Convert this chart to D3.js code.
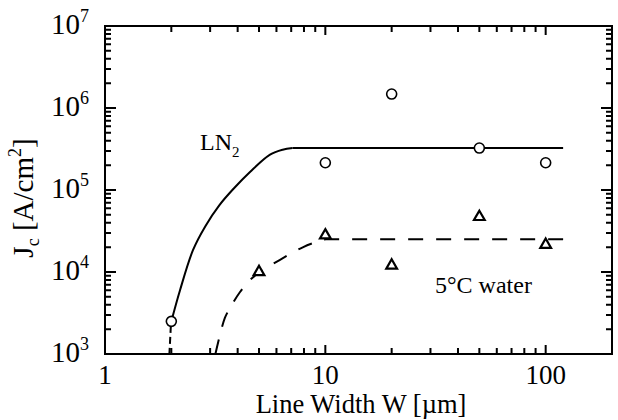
<!DOCTYPE html>
<html><head><meta charset="utf-8">
<script src="https://cdn.jsdelivr.net/npm/d3@7"></script>
<style>body{margin:0;background:#fff}</style>
</head><body><svg id="c" width="618" height="420"></svg>
<script>
// ---- data ----
const ln2W = [2, 10, 20, 50, 100];
const ln2Jc = [2500, 2.15e5, 1.48e6, 3.25e5, 2.15e5];
const waterW = [5, 10, 20, 50, 100];
const waterJc = [1.0e4, 2.8e4, 1.2e4, 4.7e4, 2.15e4];
const ln2FitW = [2, 2.19, 2.51, 2.85, 3.3, 3.85, 4.55, 5.61, 6.4, 7.1];
const ln2FitJc = [2500, 6000, 1.86e4, 3.6e4, 6.5e4, 1.05e5, 1.66e5, 2.7e5, 3.1e5, 3.25e5];
const ln2FlatW = [7.1, 120];
const ln2FlatJc = [3.25e5, 3.25e5];
const ln2TailW = [1.99, 1.96];
const ln2TailJc = [2200, 1000];
const waterFitW = [3.17, 3.5, 3.77, 4.1, 4.55, 5, 6.2, 7.9, 9, 10];
const waterFitJc = [1000, 2750, 4000, 5700, 8000, 9800, 1.4e4, 2.0e4, 2.3e4, 2.5e4];
const waterFlatW = [10, 120];
const waterFlatJc = [2.5e4, 2.5e4];
const xTickVals = [1, 10, 100];
const xTickLabels = ["1", "10", "100"];
const yTickVals = [1e3, 1e4, 1e5, 1e6, 1e7];
const yTickExp = ["3", "4", "5", "6", "7"];

// ---- layout ----
const L = 105, R = 612, T = 26, B = 354;
const svg = d3.select("#c");
const font = "'Liberation Serif','Times New Roman',serif";
const x = d3.scaleLog().domain([1, 200]).range([L, R]);
const y = d3.scaleLog().domain([1e3, 1e7]).range([B, T]);

const xMinor = [];
for (const d of [1, 10, 100]) for (let k = 2; k <= 9; k++) if (d * k < 200) xMinor.push(d * k);
const yMinor = [];
for (const d of [1e3, 1e4, 1e5, 1e6]) for (let k = 2; k <= 9; k++) yMinor.push(d * k);

// frame
svg.append("rect").attr("x", L).attr("y", T).attr("width", R - L).attr("height", B - T)
  .attr("fill", "none").attr("stroke", "#000").attr("stroke-width", 2);

// inward ticks on all four sides, drawn as one path
let td = "";
function xt(vals, len) {
  vals.forEach(v => {
    const px = x(v);
    td += `M${px},${B}V${B - len}M${px},${T}V${T + len}`;
  });
}
function ytk(vals, len) {
  vals.forEach(v => {
    const py = y(v);
    td += `M${L},${py}H${L + len}M${R},${py}H${R - len}`;
  });
}
xt(xTickVals.filter(v => v > 1), 9);
xt(xMinor, 6);
ytk(yTickVals.slice(1, -1), 11);
ytk(yMinor, 6);
svg.append("path").attr("d", td).attr("fill", "none").attr("stroke", "#000").attr("stroke-width", 2);

// tick labels
svg.selectAll(".xl").data(xTickVals).enter().append("text")
  .attr("x", d => x(d)).attr("y", 384).attr("text-anchor", "middle")
  .attr("font-family", font).attr("font-size", 27)
  .text((d, i) => xTickLabels[i]);
const yl = svg.selectAll(".yl").data(yTickVals).enter().append("text")
  .attr("x", 89).attr("y", d => y(d) + 8).attr("text-anchor", "end")
  .attr("font-family", font).attr("font-size", 29);
yl.append("tspan").text("10");
yl.append("tspan").attr("dy", -12).attr("font-size", 18).text((d, i) => yTickExp[i]);

// axis titles
svg.append("text").attr("x", 361).attr("y", 413).attr("text-anchor", "middle")
  .attr("font-family", font).attr("font-size", 26.5).text("Line Width W [\u00b5m]");
const yt = svg.append("text").attr("transform", "translate(33,198) rotate(-90)")
  .attr("text-anchor", "middle").attr("font-family", font).attr("font-size", 29);
yt.append("tspan").text("J");
yt.append("tspan").attr("dy", 6).attr("font-size", 18).text("c");
yt.append("tspan").attr("dy", -6).text(" [A/cm");
yt.append("tspan").attr("dy", -12).attr("font-size", 18).text("2");
yt.append("tspan").attr("dy", 12).text("]");

// fit lines
const curve = d3.line().x(d => x(d[0])).y(d => y(d[1])).curve(d3.curveCatmullRom.alpha(0.5));
const straight = d3.line().x(d => x(d[0])).y(d => y(d[1]));
function drawLine(gen, data, dash) {
  const p = svg.append("path").datum(data).attr("d", gen)
    .attr("fill", "none").attr("stroke", "#000").attr("stroke-width", 2);
  if (dash) p.attr("stroke-dasharray", dash);
}
drawLine(curve, d3.zip(ln2FitW, ln2FitJc));
drawLine(straight, d3.zip(ln2FlatW, ln2FlatJc));
drawLine(straight, d3.zip(ln2TailW, ln2TailJc), "7,4");
const wPath = curve(d3.zip(waterFitW, waterFitJc)) + "L" + x(waterFlatW[1]) + "," + y(waterFlatJc[1]);
svg.append("path").attr("d", wPath).attr("fill", "none").attr("stroke", "#000")
  .attr("stroke-width", 2).attr("stroke-dasharray", "15,13");

// markers
svg.selectAll(".c").data(d3.zip(ln2W, ln2Jc)).enter().append("circle")
  .attr("cx", d => x(d[0])).attr("cy", d => y(d[1])).attr("r", 5)
  .attr("fill", "#fff").attr("stroke", "#000").attr("stroke-width", 1.6);
const tri = d3.symbol().type(d3.symbolTriangle).size(50);
svg.selectAll(".t").data(d3.zip(waterW, waterJc)).enter().append("path")
  .attr("transform", d => `translate(${x(d[0])},${y(d[1])})`).attr("d", tri)
  .attr("fill", "#fff").attr("stroke", "#000").attr("stroke-width", 2.2);

// labels
const ln = svg.append("text").attr("x", 200).attr("y", 150)
  .attr("font-family", font).attr("font-size", 24);
ln.append("tspan").text("LN");
ln.append("tspan").attr("dy", 7).attr("font-size", 15).text("2");
svg.append("text").attr("x", 435).attr("y", 293).attr("font-family", font).attr("font-size", 24)
  .text("5\u00b0C water");
</script></body></html>
